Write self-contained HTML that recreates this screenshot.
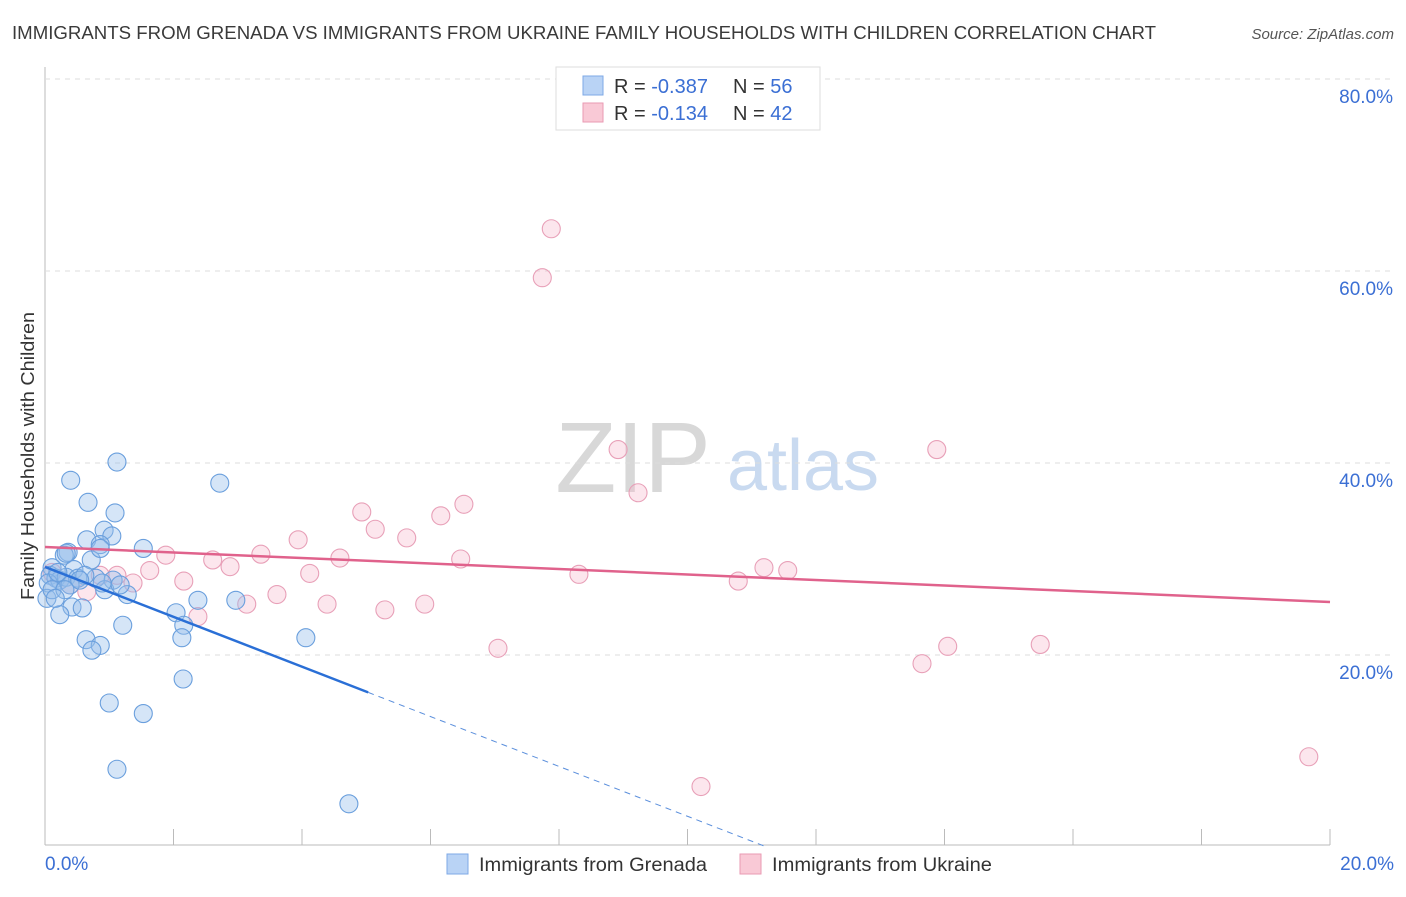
<!DOCTYPE html>
<html><head><meta charset="utf-8"><style>
body{margin:0;background:#fff;font-family:"Liberation Sans",sans-serif;}
svg text{font-family:"Liberation Sans",sans-serif;}
</style></head><body>
<svg id="c" width="1406" height="892" xmlns="http://www.w3.org/2000/svg">
<text x="12" y="39" font-size="18" fill="#3a3a3a" textLength="1144" lengthAdjust="spacingAndGlyphs">IMMIGRANTS FROM GRENADA VS IMMIGRANTS FROM UKRAINE FAMILY HOUSEHOLDS WITH CHILDREN CORRELATION CHART</text>
<text x="1394" y="39" font-size="15" fill="#555" font-style="italic" text-anchor="end">Source: ZipAtlas.com</text>
<text transform="translate(34,456) rotate(-90)" font-size="18" fill="#333" text-anchor="middle" textLength="288" lengthAdjust="spacingAndGlyphs">Family Households with Children</text>
<g><text x="633" y="492" font-size="100" fill="#d8d8d8" font-family="Liberation Serif" text-anchor="middle">ZIP</text><text x="803" y="490" font-size="72" fill="#c9daf0" text-anchor="middle">atlas</text></g>
<g id="grid"></g><g id="pts"></g><g id="lines"></g>
<g>
<rect x="556" y="67" width="264" height="63" fill="#fff" stroke="#ddd"/>
<rect x="583" y="76" width="20" height="19" fill="#b9d3f5" stroke="#7ea8e6"/>
<rect x="583" y="103" width="20" height="19" fill="#f9c9d6" stroke="#e99ab3"/>
<text x="614" y="93" font-size="20" fill="#333">R = <tspan fill="#3b6fd4">-0.387</tspan><tspan x="733">N = </tspan><tspan fill="#3b6fd4">56</tspan></text>
<text x="614" y="120" font-size="20" fill="#333">R = <tspan fill="#3b6fd4"> -0.134</tspan><tspan x="733">N = </tspan><tspan fill="#3b6fd4">42</tspan></text>
</g>
<g>
<rect x="447" y="854" width="21" height="20" fill="#b9d3f5" stroke="#7ea8e6"/>
<text x="479" y="871" font-size="19" fill="#333" textLength="228" lengthAdjust="spacingAndGlyphs">Immigrants from Grenada</text>
<rect x="740" y="854" width="21" height="20" fill="#f9c9d6" stroke="#e99ab3"/>
<text x="772" y="871" font-size="19" fill="#333" textLength="220" lengthAdjust="spacingAndGlyphs">Immigrants from Ukraine</text>
</g>
</svg>
<script>
const xTicks=[0,2,4,6,8,10,12,14,16,18,20];
const yTicks=[20,40,60,80];
const xLabels=["0.0%","20.0%"];
const grenadaX=[1.12,0.40,2.72,0.67,1.09,0.92,1.04,0.65,0.86,1.53,0.36,0.30,0.72,0.45,0.11,0.08,0.17,0.23,0.33,0.51,0.79,1.06,0.05,0.39,0.93,1.28,0.03,0.42,0.58,0.23,2.04,2.38,2.97,2.16,1.21,2.13,0.64,0.86,0.73,4.06,2.15,1.00,1.53,1.12,4.73,0.11,0.20,0.62,0.33,0.54,0.86,0.31,0.89,0.16,1.17];
const grenadaY=[40.1,38.2,37.9,35.9,34.8,33.0,32.4,32.0,31.5,31.1,30.7,30.4,29.9,28.9,29.1,28.3,28.0,27.8,28.1,28.0,28.0,27.8,27.5,27.3,26.8,26.3,25.9,25.0,24.9,24.2,24.4,25.7,25.7,23.1,23.1,21.8,21.6,21.0,20.5,21.8,17.5,15.0,13.9,8.1,4.5,26.8,28.6,28.3,30.6,27.8,31.1,26.8,27.5,25.9,27.3];
const ukraineX=[7.88,7.74,8.92,13.88,9.23,6.52,4.93,6.16,5.14,5.63,3.94,1.88,3.36,2.61,4.59,6.47,2.88,1.63,1.12,4.12,8.31,11.19,11.56,10.79,2.16,1.37,0.86,0.65,3.61,3.14,4.39,5.91,5.29,2.38,7.05,14.05,15.49,13.65,10.21,19.67,0.11,0.39];
const ukraineY=[64.4,59.3,41.4,41.4,36.9,35.7,34.9,34.5,33.1,32.2,32.0,30.4,30.5,29.9,30.1,30.0,29.2,28.8,28.3,28.5,28.4,29.1,28.8,27.7,27.7,27.5,28.3,26.6,26.3,25.3,25.3,25.3,24.7,24.0,20.7,20.9,21.1,19.1,6.3,9.4,28.6,27.3];
const grenadaTrend=[29.17,-2.597];
const ukraineTrend=[31.25,-0.2865];
const X=v=>45+v*64.25, Y=v=>847-v*9.6;
const NS="http://www.w3.org/2000/svg";
function mk(tag,attrs,parent){const e=document.createElementNS(NS,tag);for(const k in attrs)e.setAttribute(k,attrs[k]);parent.appendChild(e);return e;}
const grid=document.getElementById('grid');
let ax=mk('line',{x1:45,y1:67,x2:45,y2:845,stroke:'#bbb'},grid);


let bx=mk('line',{x1:45,y1:845,x2:1330,y2:845,stroke:'#bbb'},grid);


yTicks.forEach(t=>{
 const g=mk('line',{x1:45,y1:Y(t),x2:1393,y2:Y(t),stroke:'#ddd','stroke-dasharray':'5,5'},grid);
 
 
 const l=mk('text',{x:1393,y:Y(t)+24,'font-size':19,fill:'#3b6fd4','text-anchor':'end'},grid);l.textContent=t.toFixed(1)+'%';
 
 
});
xTicks.forEach(t=>{
 const k=mk('line',{x1:X(t),y1:829,x2:X(t),y2:845,stroke:'#bbb'},grid);
 
 
});
[[0,'start',45],[20,'end',1394]].forEach((a,i)=>{
 const l=mk('text',{x:a[2],y:870,'font-size':19,fill:'#3b6fd4','text-anchor':a[1]},grid);l.textContent=xLabels[i];
 
 
});
const pts=document.getElementById('pts');
ukraineX.forEach((x,i)=>{
 const c=mk('circle',{cx:X(x),cy:Y(ukraineY[i]),r:9,fill:'rgba(246,184,204,0.35)',stroke:'#e8a0b8','stroke-width':1.1},pts);
 
 
});
grenadaX.forEach((x,i)=>{
 const c=mk('circle',{cx:X(x),cy:Y(grenadaY[i]),r:9,fill:'rgba(150,190,236,0.4)',stroke:'#6a9fdd','stroke-width':1.1},pts);
 
 
});
const lines=document.getElementById('lines');
const gEnd=5.03, gZero=-grenadaTrend[0]/grenadaTrend[1];
let l1=mk('line',{x1:X(0),y1:Y(grenadaTrend[0]),x2:X(gEnd),y2:Y(grenadaTrend[0]+grenadaTrend[1]*gEnd),stroke:'#2a6fd6','stroke-width':2.5},lines);


let l2=mk('line',{x1:X(gEnd),y1:Y(grenadaTrend[0]+grenadaTrend[1]*gEnd),x2:X(gZero),y2:Y(0),stroke:'#5b8fdc','stroke-width':1,'stroke-dasharray':'6,5'},lines);


let l3=mk('line',{x1:X(0),y1:Y(ukraineTrend[0]),x2:X(20),y2:Y(ukraineTrend[0]+ukraineTrend[1]*20),stroke:'#e0628c','stroke-width':2.5},lines);


</script>
</body></html>
